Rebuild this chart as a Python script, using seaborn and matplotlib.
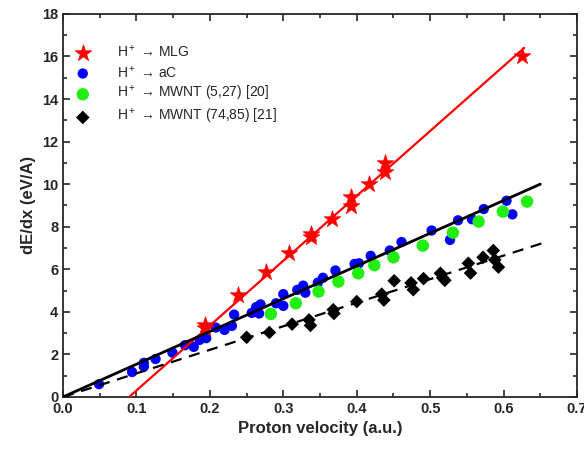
import numpy as np
import pandas as pd
import seaborn as sns
import matplotlib.pyplot as plt

# H+ -> MLG (red stars)
mlg_v = [0.193, 0.193, 0.238, 0.276, 0.308, 0.338, 0.338, 0.366, 0.392, 0.392, 0.417, 0.439, 0.439, 0.625]
mlg_s = [3.38, 3.24, 4.79, 5.85, 6.78, 7.50, 7.65, 8.38, 8.98, 9.41, 10.0, 10.55, 11.0, 16.0]

# H+ -> aC (blue circles)
ac_v = [0.049, 0.094, 0.110, 0.110, 0.126, 0.149, 0.166, 0.178, 0.186, 0.195,
        0.208, 0.220, 0.230, 0.233, 0.257, 0.263, 0.269, 0.267, 0.290, 0.300,
        0.300, 0.319, 0.327, 0.330, 0.347, 0.354, 0.371, 0.397, 0.403, 0.419,
        0.445, 0.461, 0.502, 0.527, 0.538, 0.557, 0.573, 0.604, 0.612]
ac_s = [0.60, 1.17, 1.60, 1.42, 1.78, 2.08, 2.43, 2.35, 2.68, 2.76,
        3.26, 3.15, 3.34, 3.87, 3.95, 4.22, 4.35, 3.92, 4.40, 4.28,
        4.83, 5.03, 5.23, 4.90, 5.37, 5.60, 5.94, 6.25, 6.28, 6.63,
        6.88, 7.28, 7.82, 7.38, 8.30, 8.35, 8.83, 9.22, 8.58]

# H+ -> MWNT (5,27) [20] (green circles)
mw1_v = [0.283, 0.317, 0.348, 0.375, 0.402, 0.424, 0.450, 0.490, 0.531, 0.566, 0.599, 0.632]
mw1_s = [3.90, 4.40, 4.95, 5.42, 5.81, 6.19, 6.56, 7.11, 7.72, 8.24, 8.71, 9.18]

# H+ -> MWNT (74,85) [21] (black diamonds)
mw2_v = [0.250, 0.281, 0.312, 0.335, 0.337, 0.368, 0.369, 0.400, 0.434, 0.437,
         0.451, 0.474, 0.477, 0.491, 0.514, 0.517, 0.520, 0.552, 0.555, 0.572,
         0.586, 0.588, 0.593]
mw2_s = [2.80, 3.03, 3.42, 3.62, 3.36, 4.10, 3.92, 4.48, 4.83, 4.55,
         5.46, 5.36, 5.04, 5.56, 5.81, 5.60, 5.48, 6.28, 5.82, 6.56,
         6.88, 6.44, 6.10]

# fitted lines (end points)
fit_mlg_v = [0.090, 0.628]
fit_mlg_s = [0.0, 16.4]
fit_ac_v = [0.0, 0.650]
fit_ac_s = [0.0, 10.0]
fit_mw2_v = [0.0, 0.655]
fit_mw2_s = [0.0, 7.25]

sns.set_style("ticks")
plt.rcParams['font.family'] = ['Liberation Sans', 'DejaVu Sans']
plt.rcParams['mathtext.fontset'] = 'custom'
plt.rcParams['mathtext.rm'] = 'Liberation Sans'
plt.rcParams['mathtext.it'] = 'Liberation Sans'
plt.rcParams['axes.linewidth'] = 1.3

fig, ax = plt.subplots(figsize=(5.84, 4.49), dpi=100)
fig.subplots_adjust(left=0.108, right=0.988, top=0.969, bottom=0.116)

sns.scatterplot(x=mlg_v, y=mlg_s, ax=ax, marker='*', s=160, color='red',
                edgecolor='red', linewidth=0.5, label='H$^+$ → MLG', zorder=4)
sns.scatterplot(x=ac_v, y=ac_s, ax=ax, marker='o', s=55, color='blue',
                edgecolor='none', label='H$^+$ → aC', zorder=3)
sns.scatterplot(x=mw1_v, y=mw1_s, ax=ax, marker='o', s=80, color='#22ee11',
                edgecolor='none', label='H$^+$ → MWNT (5,27) [20]', zorder=3)
sns.scatterplot(x=mw2_v, y=mw2_s, ax=ax, marker='D', s=48, color='black',
                edgecolor='none', label='H$^+$ → MWNT (74,85) [21]', zorder=3)

sns.lineplot(x=fit_mlg_v, y=fit_mlg_s, ax=ax, color='red', lw=1.6, zorder=3)
sns.lineplot(x=fit_ac_v, y=fit_ac_s, ax=ax, color='black', lw=2.0, zorder=5)
sns.lineplot(x=fit_mw2_v, y=fit_mw2_s, ax=ax, color='black', lw=1.6, zorder=5)
ax.lines[-1].set_dashes((5, 3.5))

ax.set_xlim(0, 0.7)
ax.set_ylim(0, 18)
ax.set_xticks(np.arange(0, 0.71, 0.1))
ax.set_xticks(np.arange(0, 0.71, 0.05), minor=True)
ax.set_yticks(np.arange(0, 19, 2))
ax.set_yticks(np.arange(0, 19, 1), minor=True)
ax.set_xticklabels([f"{v:.1f}" for v in np.arange(0, 0.71, 0.1)])
ax.tick_params(which='both', direction='in', top=True, right=True, width=1.2)
ax.tick_params(which='major', length=5, labelsize=10.5)
ax.tick_params(which='minor', length=3)
for lab in ax.get_xticklabels() + ax.get_yticklabels():
    lab.set_fontweight('bold')

ax.set_xlabel("Proton velocity (a.u.)", fontsize=12, fontweight='bold')
ax.set_ylabel("dE/dx (eV/A)", fontsize=12, fontweight='bold')

ax.legend(loc='upper left', bbox_to_anchor=(0.014, 0.936), frameon=False,
          fontsize=10, handlelength=1.0, handletextpad=2.0, labelspacing=0.3,
          borderaxespad=0.0)

fig.savefig("out.png", dpi=100)
